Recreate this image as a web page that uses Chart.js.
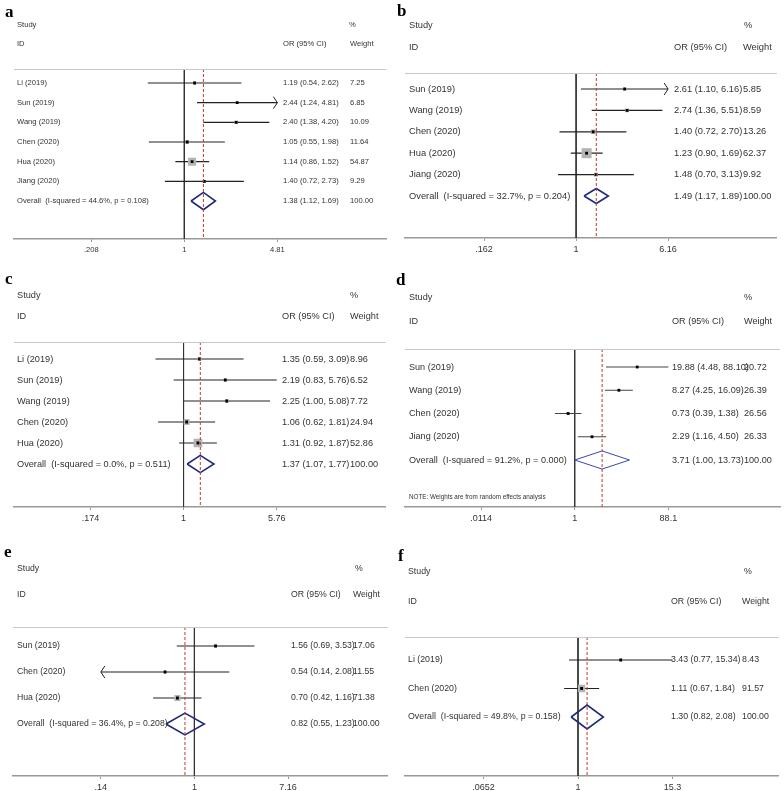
<!DOCTYPE html>
<html>
<head>
<meta charset="utf-8">
<script src="https://cdn.jsdelivr.net/npm/chart.js@4.4.0/dist/chart.umd.min.js"></script>
<style>
  body { margin: 0; background: #fff; width: 784px; height: 791px; position: relative; overflow: hidden; }
  canvas { position: absolute; }
</style>
</head>
<body>
<canvas id="pa" width="392" height="275" style="left:0;top:0"></canvas>
<canvas id="pb" width="392" height="275" style="left:392px;top:0"></canvas>
<canvas id="pc" width="392" height="275" style="left:0;top:260px"></canvas>
<canvas id="pd" width="392" height="275" style="left:392px;top:260px"></canvas>
<canvas id="pe" width="392" height="271" style="left:0;top:520px"></canvas>
<canvas id="pf" width="392" height="271" style="left:392px;top:520px"></canvas>
<script>
// panel a
const studiesA = ['Li (2019)', 'Sun (2019)', 'Wang (2019)', 'Chen (2020)', 'Hua (2020)', 'Jiang (2020)'];
const orA = [1.19, 2.44, 2.40, 1.05, 1.14, 1.40];
const lowA = [0.54, 1.24, 1.38, 0.55, 0.86, 0.72];
const highA = [2.62, 4.81, 4.20, 1.98, 1.52, 2.73];
const weightA = [7.25, 6.85, 10.09, 11.64, 54.87, 9.29];
const overallA = [1.38, 1.12, 1.69];
const hetA = ['44.6%', '0.108'];
const clipA = [0, 1, 0, 0, 0, 0];
const ticksA = [0.208, 1, 4.81];
const tickLabelsA = ['.208', '1', '4.81'];

// panel b
const studiesB = ['Sun (2019)', 'Wang (2019)', 'Chen (2020)', 'Hua (2020)', 'Jiang (2020)'];
const orB = [2.61, 2.74, 1.40, 1.23, 1.48];
const lowB = [1.10, 1.36, 0.72, 0.90, 0.70];
const highB = [6.16, 5.51, 2.70, 1.69, 3.13];
const weightB = [5.85, 8.59, 13.26, 62.37, 9.92];
const overallB = [1.49, 1.17, 1.89];
const hetB = ['32.7%', '0.204'];
const clipB = [1, 0, 0, 0, 0];
const ticksB = [0.162, 1, 6.16];
const tickLabelsB = ['.162', '1', '6.16'];

// panel c
const studiesC = ['Li (2019)', 'Sun (2019)', 'Wang (2019)', 'Chen (2020)', 'Hua (2020)'];
const orC = [1.35, 2.19, 2.25, 1.06, 1.31];
const lowC = [0.59, 0.83, 1.00, 0.62, 0.92];
const highC = [3.09, 5.76, 5.08, 1.81, 1.87];
const weightC = [8.96, 6.52, 7.72, 24.94, 52.86];
const overallC = [1.37, 1.07, 1.77];
const hetC = ['0.0%', '0.511'];
const clipC = [0, 0, 0, 0, 0];
const ticksC = [0.174, 1, 5.76];
const tickLabelsC = ['.174', '1', '5.76'];

// panel d
const studiesD = ['Sun (2019)', 'Wang (2019)', 'Chen (2020)', 'Jiang (2020)'];
const orD = [19.88, 8.27, 0.73, 2.29];
const lowD = [4.48, 4.25, 0.39, 1.16];
const highD = [88.10, 16.09, 1.38, 4.50];
const weightD = [20.72, 26.39, 26.56, 26.33];
const overallD = [3.71, 1.00, 13.73];
const hetD = ['91.2%', '0.000'];
const clipD = [0, 0, 0, 0];
const ticksD = [0.0114, 1, 88.1];
const tickLabelsD = ['.0114', '1', '88.1'];

// panel e
const studiesE = ['Sun (2019)', 'Chen (2020)', 'Hua (2020)'];
const orE = [1.56, 0.54, 0.70];
const lowE = [0.69, 0.14, 0.42];
const highE = [3.53, 2.08, 1.16];
const weightE = [17.06, 11.55, 71.38];
const overallE = [0.82, 0.55, 1.23];
const hetE = ['36.4%', '0.208'];
const clipE = [0, -1, 0];
const ticksE = [0.14, 1, 7.16];
const tickLabelsE = ['.14', '1', '7.16'];

// panel f
const studiesF = ['Li (2019)', 'Chen (2020)'];
const orF = [3.43, 1.11];
const lowF = [0.77, 0.67];
const highF = [15.34, 1.84];
const weightF = [8.43, 91.57];
const overallF = [1.30, 0.82, 2.08];
const hetF = ['49.8%', '0.158'];
const clipF = [0, 0];
const ticksF = [0.0652, 1, 15.3];
const tickLabelsF = ['.0652', '1', '15.3'];

const FONT = '"Liberation Sans", Arial, sans-serif';

const panels = [
  { id: 'pa', letter: 'a', lx: 5, ly: 17, L: 14, R: 390, px1: 186, span: 94, top: 69, axis: 239, first: 83, step: 19.67,
    font: 7.6, tickFont: 7.6, studyX: 17, orX: 283, wX: 350, pctX: 349, h1: 25, h2: 44, boxK: 1.08, dh: 0.44,
    ci: '#222', ciW: 1.2, dia: '#1f2a7a', diaW: 1.6,
    studies: studiesA, or: orA, low: lowA, high: highA, weight: weightA, overall: overallA, het: hetA, clip: clipA, ticks: ticksA, tickLabels: tickLabelsA },
  { id: 'pb', letter: 'b', lx: 5, ly: 16, L: 13, R: 389, px1: 186, span: 93, top: 73, axis: 238, first: 89, step: 21.4,
    font: 9.3, tickFont: 9, studyX: 17, orX: 282, wX: 351, pctX: 352, h1: 25, h2: 47, boxK: 1.27, dh: 0.35,
    ci: '#222', ciW: 1.2, dia: '#1f2a7a', diaW: 1.6,
    studies: studiesB, or: orB, low: lowB, high: highB, weight: weightB, overall: overallB, het: hetB, clip: clipB, ticks: ticksB, tickLabels: tickLabelsB },
  { id: 'pc', letter: 'c', lx: 5, ly: 24, L: 14, R: 389, px1: 185, span: 94, top: 82, axis: 247, first: 99, step: 21,
    font: 9.2, tickFont: 9, studyX: 17, orX: 282, wX: 350, pctX: 350, h1: 35, h2: 56, boxK: 1.2, dh: 0.41,
    ci: '#222', ciW: 1.2, dia: '#1f2a7a', diaW: 1.6,
    studies: studiesC, or: orC, low: lowC, high: highC, weight: weightC, overall: overallC, het: hetC, clip: clipC, ticks: ticksC, tickLabels: tickLabelsC },
  { id: 'pd', letter: 'd', lx: 4, ly: 25, L: 13, R: 389, px1: 183, span: 94, top: 89, axis: 247, first: 107, step: 23.25,
    font: 9.1, tickFont: 9, studyX: 17, orX: 280, wX: 352, pctX: 352, h1: 37, h2: 61, boxK: 0, dh: 0.39,
    ci: '#444', ciW: 1, dia: '#3a46b4', diaW: 1,
    note: 'NOTE: Weights are from random effects analysis', noteY: 237,
    studies: studiesD, or: orD, low: lowD, high: highD, weight: weightD, overall: overallD, het: hetD, clip: clipD, ticks: ticksD, tickLabels: tickLabelsD },
  { id: 'pe', letter: 'e', lx: 4, ly: 37, L: 13, R: 389, px1: 195, span: 94, top: 107, axis: 256, first: 126, step: 26,
    font: 8.7, tickFont: 9, studyX: 17, orX: 291, wX: 353, pctX: 355, h1: 49, h2: 75, boxK: 0.71, dh: 0.42,
    ci: '#222', ciW: 1.2, dia: '#1f2a7a', diaW: 1.6,
    studies: studiesE, or: orE, low: lowE, high: highE, weight: weightE, overall: overallE, het: hetE, clip: clipE, ticks: ticksE, tickLabels: tickLabelsE },
  { id: 'pf', letter: 'f', lx: 6, ly: 41, L: 13, R: 389, px1: 187, span: 95, top: 117, axis: 256, first: 140, step: 28.5,
    font: 8.8, tickFont: 9, studyX: 16, orX: 279, wX: 350, pctX: 352, h1: 52, h2: 82, boxK: 0.76, dh: 0.42,
    ci: '#222', ciW: 1.2, dia: '#1f2a7a', diaW: 1.6,
    studies: studiesF, or: orF, low: lowF, high: highF, weight: weightF, overall: overallF, het: hetF, clip: clipF, ticks: ticksF, tickLabels: tickLabelsF }
];

const f2 = v => v.toFixed(2);
const ciText = (o, l, h) => `${f2(o)} (${f2(l)}, ${f2(h)})`;

// text columns, header rule, clip arrows
const forestText = {
  id: 'forestText',
  afterDraw(chart, args, p) {
    const ctx = chart.ctx, y = chart.scales.y, x = chart.scales.x, area = chart.chartArea;
    const n = p.studies.length;
    ctx.save();
    // header rule
    ctx.strokeStyle = '#c8c8c8';
    ctx.lineWidth = 1;
    ctx.beginPath();
    ctx.moveTo(area.left, area.top + 0.5);
    ctx.lineTo(area.right, area.top + 0.5);
    ctx.stroke();
    // arrows for clipped intervals
    ctx.strokeStyle = p.ci;
    ctx.lineWidth = 1;
    p.clip.forEach((c, i) => {
      if (!c) return;
      const px = x.getPixelForValue(c > 0 ? p.ticks[2] : p.ticks[0]);
      const py = y.getPixelForValue(i);
      ctx.beginPath();
      ctx.moveTo(px - 4 * c, py - 6);
      ctx.lineTo(px, py);
      ctx.lineTo(px - 4 * c, py + 6);
      ctx.stroke();
    });
    // panel letter
    ctx.fillStyle = '#000';
    ctx.font = 'bold 17px "Liberation Serif", "Times New Roman", serif';
    ctx.textBaseline = 'alphabetic';
    ctx.fillText(p.letter, p.lx, p.ly);
    // headers
    ctx.fillStyle = '#333';
    ctx.font = `${p.font}px ${FONT}`;
    ctx.textBaseline = 'middle';
    ctx.fillText('Study', p.studyX, p.h1);
    ctx.fillText('%', p.pctX, p.h1);
    ctx.fillText('ID', p.studyX, p.h2);
    ctx.fillText('OR (95% CI)', p.orX, p.h2);
    ctx.fillText('Weight', p.wX, p.h2);
    // rows
    p.studies.forEach((s, i) => {
      const py = y.getPixelForValue(i);
      ctx.fillText(s, p.studyX, py);
      ctx.fillText(ciText(p.or[i], p.low[i], p.high[i]), p.orX, py);
      ctx.fillText(f2(p.weight[i]), p.wX, py);
    });
    const oy = y.getPixelForValue(n);
    ctx.fillText(`Overall  (I-squared = ${p.het[0]}, p = ${p.het[1]})`, p.studyX, oy);
    ctx.fillText(ciText(p.overall[0], p.overall[1], p.overall[2]), p.orX, oy);
    ctx.fillText('100.00', p.wX, oy);
    if (p.note) {
      ctx.font = `6.3px ${FONT}`;
      ctx.fillText(p.note, p.studyX, p.noteY);
    }
    ctx.restore();
  }
};

panels.forEach(p => {
  const canvas = document.getElementById(p.id);
  const W = canvas.width, H = canvas.height;
  const n = p.studies.length;
  const yMin = -(p.first - p.top) / p.step;
  const yMax = (p.axis - p.first) / p.step;
  const unit = Math.log(p.ticks[2]) / p.span;
  const xMin = Math.exp((p.L - p.px1) * unit);
  const xMax = Math.exp((p.R - p.px1) * unit);
  const lo = p.ticks[0], hi = p.ticks[2];
  const axisH = 3 + p.tickFont * 1.2 + 6;

  const datasets = [];
  p.studies.forEach((s, i) => {
    datasets.push({
      data: [{ x: Math.max(p.low[i], lo), y: i }, { x: Math.min(p.high[i], hi), y: i }],
      showLine: true, borderColor: p.ci, borderWidth: p.ciW, pointRadius: 0, order: 5
    });
  });
  const est = p.or.map((v, i) => ({ x: v, y: i }));
  datasets.push({
    data: est, pointStyle: 'rect', backgroundColor: '#b4b4b4', borderWidth: 0,
    pointRadius: p.weight.map(w => p.boxK * Math.sqrt(w) / Math.SQRT2), order: 4
  });
  datasets.push({
    data: est, pointStyle: 'rect', backgroundColor: '#000', borderWidth: 0, pointRadius: 2, order: 3
  });
  const o = p.overall;
  datasets.push({
    data: [{ x: o[1], y: n }, { x: o[0], y: n - p.dh }, { x: o[2], y: n }, { x: o[0], y: n + p.dh }, { x: o[1], y: n }],
    showLine: true, borderColor: p.dia, borderWidth: p.diaW, pointRadius: 0, tension: 0, order: 2
  });
  datasets.push({
    data: [{ x: 1, y: yMin }, { x: 1, y: yMax }],
    showLine: true, borderColor: '#333', borderWidth: 1, pointRadius: 0, order: 6
  });
  datasets.push({
    data: [{ x: o[0], y: yMin }, { x: o[0], y: yMax }],
    showLine: true, borderColor: '#c0392b', borderWidth: 1, borderDash: [3, 2], pointRadius: 0, order: 1
  });

  new Chart(canvas, {
    type: 'scatter',
    data: { datasets },
    options: {
      responsive: false,
      animation: false,
      devicePixelRatio: 1,
      layout: { padding: { left: p.L, right: W - p.R, top: p.top, bottom: H - p.axis - axisH } },
      plugins: { legend: { display: false }, tooltip: { enabled: false }, forestText: p },
      scales: {
        x: {
          type: 'logarithmic', min: xMin, max: xMax,
          afterBuildTicks: s => { s.ticks = p.ticks.map(v => ({ value: v })); },
          ticks: {
            callback: (v, i) => p.tickLabels[i],
            font: { size: p.tickFont, family: FONT }, color: '#333',
            padding: 3, maxRotation: 0, autoSkip: false
          },
          grid: { drawOnChartArea: false, drawTicks: true, tickLength: 3, color: '#999' },
          border: { color: '#999', width: 1.5 }
        },
        y: { type: 'linear', reverse: true, min: yMin, max: yMax, display: false }
      }
    },
    plugins: [forestText]
  });
});
</script>
</body>
</html>
